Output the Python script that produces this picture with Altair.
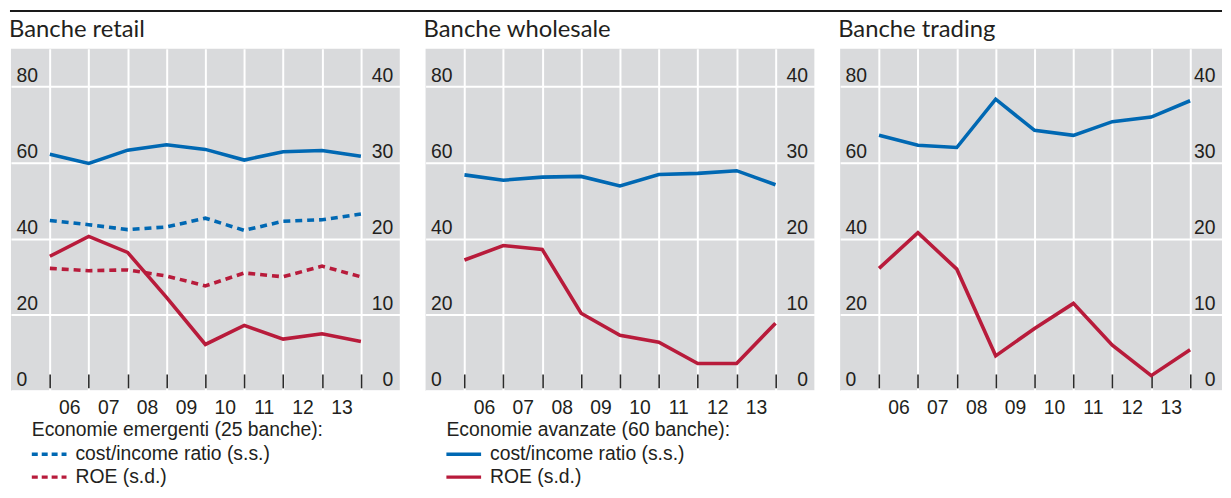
import altair as alt
import pandas as pd

# ---- data ----
periods = [2006, 2007, 2008, 2009, 2010, 2011, 2012, 2013, 2014]
left_ticks = [0, 20, 40, 60, 80]
right_ticks = [0, 10, 20, 30, 40]

retail_adv_ci = [62.2, 59.8, 63.3, 64.7, 63.5, 60.7, 62.9, 63.2, 61.7]
retail_emg_ci = [44.8, 43.7, 42.4, 43.1, 45.4, 42.2, 44.6, 45.0, 46.5]
retail_adv_roe = [17.7, 20.3, 18.2, 12.3, 6.1, 8.6, 6.8, 7.5, 6.5]
retail_emg_roe = [16.1, 15.8, 15.9, 15.1, 13.8, 15.5, 15.0, 16.4, 15.0]

wholesale_ci = [56.8, 55.4, 56.2, 56.4, 53.9, 56.9, 57.2, 57.9, 54.2]
wholesale_roe = [17.2, 19.1, 18.6, 10.2, 7.3, 6.4, 3.6, 3.6, 8.9]

trading_ci = [67.2, 64.6, 64.0, 76.7, 68.5, 67.2, 70.8, 72.0, 76.3]
trading_roe = [16.1, 20.8, 16.0, 4.6, 8.2, 11.5, 6.0, 2.0, 5.4]

panel_titles = ["Banche retail", "Banche wholesale", "Banche trading"]
CI = "cost/income ratio (s.s.)"
ROE = "ROE (s.d.)"
legend_emg = "Economie emergenti (25 banche):"
legend_adv = "Economie avanzate (60 banche):"

# ---- styles ----
BLUE = "#0068b3"
RED = "#b81b3b"
GRAY = "#d9dadc"
TXT = "#231f20"
AX_FONT = "Liberation Sans"
TITLE_FONT = "Lato"
FS = 19.5
W, H = 392, 345
W3 = 385
SP = 26
LW = 3.6
PX_PER_YEAR = W / 10.0

yl_scale = alt.Scale(domain=[0, 90], nice=False)
yr_scale = alt.Scale(domain=[0, 45], nice=False)
cscale = alt.Scale(domain=[CI, ROE], range=[BLUE, RED])


def make_xaxis():
    return alt.Axis(values=periods, grid=True, gridColor="white", gridWidth=2,
                    domain=False, ticks=True, tickColor="#2a2a2a", tickWidth=1.6,
                    tickSize=14, offset=-17, labelOffset=PX_PER_YEAR / 2,
                    labelPadding=11,
                    labelExpr="datum.value < 2014 ? slice(toString(datum.value), 2) : ''",
                    labelFont=AX_FONT, labelFontSize=FS, labelColor=TXT,
                    labelFlush=False, labelOverlap=False, title=None)


ylaxis = alt.Axis(values=left_ticks, orient="left", grid=True, gridColor="white",
                  gridWidth=2, domain=False, ticks=False, tickSize=0,
                  labelAlign="left", labelPadding=-5, labelBaseline="alphabetic",
                  labelOffset=-5, labelFont=AX_FONT, labelFontSize=FS,
                  labelColor=TXT, labelOverlap=False, title=None)
yraxis = alt.Axis(values=right_ticks, orient="right", grid=False, domain=False,
                  ticks=False, tickSize=0, labelAlign="right", labelPadding=-7,
                  labelBaseline="alphabetic", labelOffset=-5, labelFont=AX_FONT,
                  labelFontSize=FS, labelColor=TXT, labelOverlap=False, title=None)


def make_legend(title, dash=None):
    kw = dict(title=title, orient="none", legendX=21, legendY=376,
              direction="vertical", symbolType="M-1.2,0H2.8", symbolStrokeWidth=3.5,
              symbolSize=306, symbolFillColor="transparent",
              labelFont=AX_FONT, labelFontSize=FS,
              labelColor=TXT, titleFont=AX_FONT, titleFontSize=FS,
              titleFontWeight="normal", titleColor=TXT, labelOffset=23,
              rowPadding=3, titlePadding=3, padding=0, labelLimit=400,
              titleLimit=500)
    if dash:
        kw["symbolDash"] = dash
    return alt.Legend(**kw)


def line(df, xscale, xaxis, scale, axis, color=None, legend=None, dash=None):
    mk = dict(strokeWidth=LW, strokeJoin="miter", strokeCap="butt")
    if dash:
        mk["strokeDash"] = dash
    enc = dict(
        x=alt.X("period:Q", scale=xscale, axis=xaxis),
        y=alt.Y("value:Q", scale=scale, axis=axis),
    )
    if legend is not None:
        enc["color"] = alt.Color("measure:N", scale=cscale, legend=legend)
    else:
        enc["color"] = alt.value(color)
    return alt.Chart(df).mark_line(**mk).encode(**enc)


def frame(vals, measure):
    return pd.DataFrame({"period": periods, "value": vals, "measure": measure})


def top_rule(width, extend):
    return alt.Chart(pd.DataFrame({"k": [0]})).mark_rule(
        color="#1a1a1a", strokeWidth=2).encode(
        x=alt.value(-1), x2=alt.value(width + extend), y=alt.value(-38))


def title_text(title):
    return alt.Chart(pd.DataFrame({"t": [title]})).mark_text(
        align="left", baseline="alphabetic", font=TITLE_FONT, fontSize=24,
        color=TXT).encode(text="t:N", x=alt.value(-2), y=alt.value(-12))


def panel(title, ci_solid, roe_solid, ci_dash=None, roe_dash=None,
          legend_title=None, width=W, extend=SP):
    xscale = alt.Scale(domain=[2005, 2005 + width / PX_PER_YEAR], nice=False,
                       zero=False)
    xaxis = make_xaxis()
    left_layers = [top_rule(width, extend), title_text(title)]
    right_layers = []
    dash = [7, 5]

    def L(df, **kw):
        return line(df, xscale, xaxis, yl_scale, ylaxis, **kw)

    def R(df, **kw):
        return line(df, xscale, xaxis, yr_scale, yraxis, **kw)

    if ci_dash is not None:
        lg = make_legend(legend_title, dash=[6, 4])
        left_layers.append(L(frame(ci_solid, CI), color=BLUE))
        left_layers.append(L(frame(ci_dash, CI), legend=lg, dash=dash))
        right_layers.append(R(frame(roe_dash, ROE), legend=lg, dash=dash))
        right_layers.append(R(frame(roe_solid, ROE), color=RED))
    elif legend_title is not None:
        lg = make_legend(legend_title)
        left_layers.append(L(frame(ci_solid, CI), legend=lg))
        right_layers.append(R(frame(roe_solid, ROE), legend=lg))
    else:
        left_layers.append(L(frame(ci_solid, CI), color=BLUE))
        right_layers.append(R(frame(roe_solid, ROE), color=RED))
    ch = alt.layer(alt.layer(*left_layers), alt.layer(*right_layers)).resolve_scale(
        y="independent").properties(width=width, height=H)
    return ch


p1 = panel(panel_titles[0], retail_adv_ci, retail_adv_roe,
           ci_dash=retail_emg_ci, roe_dash=retail_emg_roe, legend_title=legend_emg)
p2 = panel(panel_titles[1], wholesale_ci, wholesale_roe, legend_title=legend_adv)
p3 = panel(panel_titles[2], trading_ci, trading_roe, width=W3, extend=0)

chart = alt.hconcat(p1, p2, p3, spacing=SP).resolve_scale(
    color="independent").resolve_legend(color="independent").properties(
    bounds="flush", padding={"left": 1, "top": 0, "right": 0, "bottom": 0}
).configure(background="white").configure_view(fill=GRAY, stroke=None)

chart.save("out.html", embed_options={"renderer": "svg", "actions": False})
